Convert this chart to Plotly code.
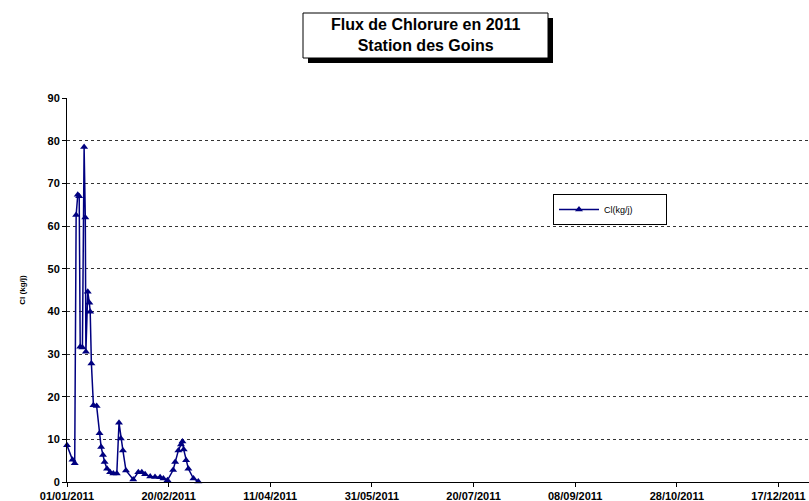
import plotly.graph_objects as go

dates = [
    "2011-01-01 00:00", "2011-01-03 17:00", "2011-01-04 19:00", "2011-01-05 12:00",
    "2011-01-06 07:00", "2011-01-07 00:00", "2011-01-07 12:00", "2011-01-08 14:00",
    "2011-01-09 10:00", "2011-01-10 00:00", "2011-01-10 07:00", "2011-01-11 05:00",
    "2011-01-12 00:00", "2011-01-12 10:00", "2011-01-13 00:00", "2011-01-14 00:00",
    "2011-01-15 14:00", "2011-01-17 00:00", "2011-01-17 19:00", "2011-01-18 17:00",
    "2011-01-19 12:00", "2011-01-20 17:00", "2011-01-22 05:00", "2011-01-23 19:00",
    "2011-01-25 12:00", "2011-01-26 14:00", "2011-01-27 12:00", "2011-01-28 12:00",
    "2011-01-30 00:00", "2011-02-02 14:00", "2011-02-05 02:00", "2011-02-06 19:00",
    "2011-02-08 10:00", "2011-02-10 22:00", "2011-02-13 07:00", "2011-02-15 19:00",
    "2011-02-17 10:00", "2011-02-19 10:00", "2011-02-22 05:00", "2011-02-23 05:00",
    "2011-02-24 19:00", "2011-02-26 02:00", "2011-02-26 19:00", "2011-02-27 10:00",
    "2011-02-28 14:00", "2011-03-01 17:00", "2011-03-04 05:00", "2011-03-06 14:00",
]
cl_flux = [
    8.6, 5.2, 4.4, 62.6,
    67.3, 67.0, 31.7, 31.5,
    78.5, 62.0, 30.5, 44.6,
    42.0, 39.9, 27.8, 18.0,
    17.8, 11.4, 8.2, 6.3,
    4.7, 3.1, 2.3, 2.0,
    2.0, 13.9, 10.2, 7.4,
    2.7, 0.6, 2.3, 2.3,
    1.8, 1.3, 1.2, 1.1,
    0.8, 0.4, 2.8, 4.7,
    7.4, 8.8, 9.5, 7.6,
    5.1, 3.1, 0.8, 0.1,
]
tick_dates = ["2011-01-01", "2011-02-20", "2011-04-11", "2011-05-31",
              "2011-07-20", "2011-09-08", "2011-10-28", "2011-12-17"]
tick_labels = ["01/01/2011", "20/02/2011", "11/04/2011", "31/05/2011",
               "20/07/2011", "08/09/2011", "28/10/2011", "17/12/2011"]
y_ticks = [0, 10, 20, 30, 40, 50, 60, 70, 80, 90]

NAVY = "#000080"
FONT = "Liberation Sans, Arial, sans-serif"

fig = go.Figure()
fig.add_trace(go.Scatter(
    x=dates, y=cl_flux, mode="lines+markers",
    name="Cl(kg/j)" + "\u00a0" * 11,
    line=dict(color=NAVY, width=1.5),
    marker=dict(symbol="triangle-up", size=7, color=NAVY),
    cliponaxis=False,
))

# plot-area pixel geometry
L, R, T, B, W, H = 67, 809, 98, 482, 809, 501
pw, ph = R - L, B - T

def px(x):
    return (x - L) / pw

def py(y):
    return (B - y) / ph

# title box shadow and box
fig.add_shape(type="rect", xref="paper", yref="paper",
              x0=px(308), x1=px(553), y0=py(63), y1=py(18),
              fillcolor="black", line=dict(width=0), layer="above")
fig.add_shape(type="rect", xref="paper", yref="paper",
              x0=px(303), x1=px(548), y0=py(58), y1=py(13),
              fillcolor="white", line=dict(color="black", width=1), layer="above")
fig.add_annotation(xref="paper", yref="paper", x=px(425.5), y=py(35.5),
                   text="Flux de Chlorure en 2011<br>Station des Goins",
                   showarrow=False, xanchor="center", yanchor="middle",
                   font=dict(family=FONT, size=16, color="black", weight="bold"))

fig.update_layout(
    width=W, height=H,
    margin=dict(l=L, r=W - R, t=T, b=H - B, autoexpand=False),
    paper_bgcolor="white", plot_bgcolor="white",
    font=dict(family=FONT, color="black"),
    showlegend=True,
    legend=dict(x=px(553), y=py(194), xanchor="left", yanchor="top",
                bordercolor="black", borderwidth=1, bgcolor="white",
                font=dict(family=FONT, size=9, color="black"),
                itemwidth=40, tracegroupgap=0),
    xaxis=dict(
        type="date", range=["2011-01-01", "2012-01-01"], automargin=False,
        tickvals=tick_dates, ticktext=tick_labels,
        showgrid=False, zeroline=False,
        showline=True, linecolor="black", linewidth=1,
        ticks="outside", ticklen=4, tickcolor="black",
        tickfont=dict(family=FONT, size=11, color="black", weight="bold"),
    ),
    yaxis=dict(
        range=[0, 90], tickvals=y_ticks, automargin=False,
        showgrid=True, gridcolor="#333333", griddash="3px,3px", gridwidth=1,
        zeroline=False,
        showline=True, linecolor="black", linewidth=1,
        ticks="outside", ticklen=4, tickcolor="black",
        tickfont=dict(family=FONT, size=11, color="black", weight="bold"),
        title=dict(text="Cl (kg/j)", standoff=20,
                   font=dict(family=FONT, size=8, color="black", weight="bold")),
    ),
)

fig.write_html("out.html", config={"displayModeBar": False},
               post_script="document.body.style.margin='0';document.body.style.overflow='hidden';")
